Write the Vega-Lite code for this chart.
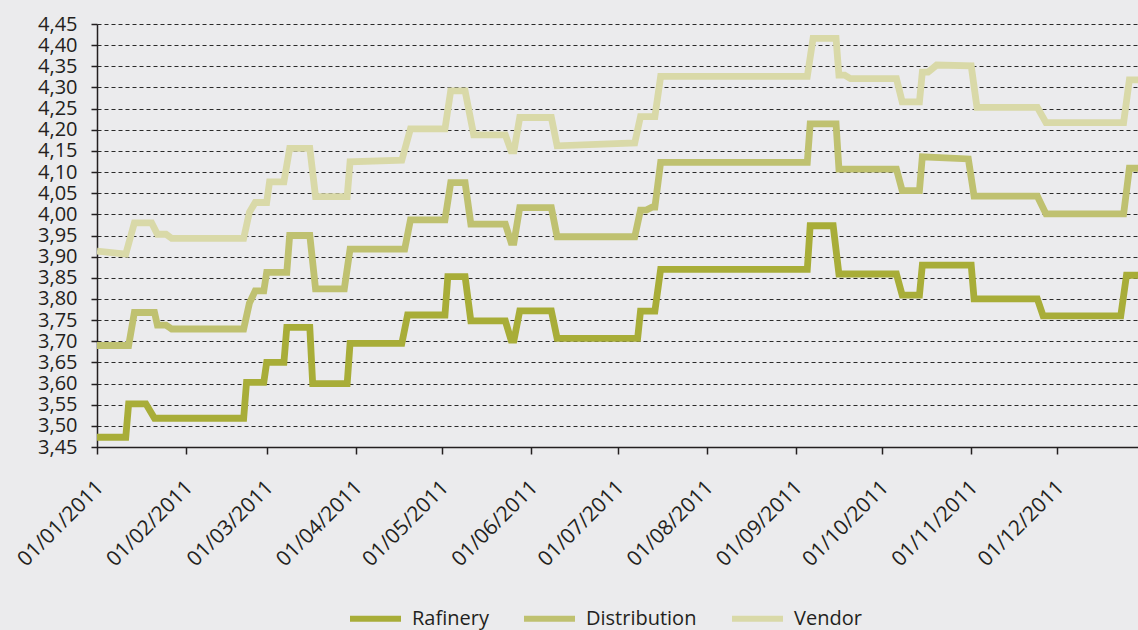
{
  "$schema": "https://vega.github.io/schema/vega-lite/v6.json",
  "width": 1041,
  "height": 423,
  "autosize": {"type": "none"},
  "padding": {"left": 97, "top": 24, "right": 0, "bottom": 183},
  "background": "#ebebed",
  "config": {"view": {"stroke": null}, "font": "Open Sans"},
  "datasets": {
    "prices": [
      {"series": "Rafinery", "date": "2011-01-01T00:00:00", "value": 3.473},
      {"series": "Rafinery", "date": "2011-01-11T00:00:00", "value": 3.473},
      {"series": "Rafinery", "date": "2011-01-12T00:00:00", "value": 3.552},
      {"series": "Rafinery", "date": "2011-01-18T00:00:00", "value": 3.552},
      {"series": "Rafinery", "date": "2011-01-21T00:00:00", "value": 3.518},
      {"series": "Rafinery", "date": "2011-02-21T00:00:00", "value": 3.518},
      {"series": "Rafinery", "date": "2011-02-22T00:00:00", "value": 3.603},
      {"series": "Rafinery", "date": "2011-02-28T00:00:00", "value": 3.603},
      {"series": "Rafinery", "date": "2011-03-01T00:00:00", "value": 3.65},
      {"series": "Rafinery", "date": "2011-03-07T00:00:00", "value": 3.65},
      {"series": "Rafinery", "date": "2011-03-08T00:00:00", "value": 3.733},
      {"series": "Rafinery", "date": "2011-03-16T00:00:00", "value": 3.733},
      {"series": "Rafinery", "date": "2011-03-17T00:00:00", "value": 3.6},
      {"series": "Rafinery", "date": "2011-03-29T00:00:00", "value": 3.6},
      {"series": "Rafinery", "date": "2011-03-30T00:00:00", "value": 3.695},
      {"series": "Rafinery", "date": "2011-04-17T00:00:00", "value": 3.695},
      {"series": "Rafinery", "date": "2011-04-19T00:00:00", "value": 3.762},
      {"series": "Rafinery", "date": "2011-05-02T00:00:00", "value": 3.762},
      {"series": "Rafinery", "date": "2011-05-03T00:00:00", "value": 3.853},
      {"series": "Rafinery", "date": "2011-05-09T00:00:00", "value": 3.853},
      {"series": "Rafinery", "date": "2011-05-11T00:00:00", "value": 3.748},
      {"series": "Rafinery", "date": "2011-05-23T00:00:00", "value": 3.748},
      {"series": "Rafinery", "date": "2011-05-25T00:00:00", "value": 3.703},
      {"series": "Rafinery", "date": "2011-05-26T00:00:00", "value": 3.703},
      {"series": "Rafinery", "date": "2011-05-28T00:00:00", "value": 3.772},
      {"series": "Rafinery", "date": "2011-06-08T00:00:00", "value": 3.772},
      {"series": "Rafinery", "date": "2011-06-10T00:00:00", "value": 3.707},
      {"series": "Rafinery", "date": "2011-07-08T00:00:00", "value": 3.707},
      {"series": "Rafinery", "date": "2011-07-09T00:00:00", "value": 3.771},
      {"series": "Rafinery", "date": "2011-07-14T00:00:00", "value": 3.771},
      {"series": "Rafinery", "date": "2011-07-16T00:00:00", "value": 3.87},
      {"series": "Rafinery", "date": "2011-09-05T00:00:00", "value": 3.87},
      {"series": "Rafinery", "date": "2011-09-06T00:00:00", "value": 3.973},
      {"series": "Rafinery", "date": "2011-09-14T00:00:00", "value": 3.973},
      {"series": "Rafinery", "date": "2011-09-16T00:00:00", "value": 3.859},
      {"series": "Rafinery", "date": "2011-10-06T00:00:00", "value": 3.859},
      {"series": "Rafinery", "date": "2011-10-08T00:00:00", "value": 3.809},
      {"series": "Rafinery", "date": "2011-10-14T00:00:00", "value": 3.809},
      {"series": "Rafinery", "date": "2011-10-15T00:00:00", "value": 3.88},
      {"series": "Rafinery", "date": "2011-11-01T00:00:00", "value": 3.88},
      {"series": "Rafinery", "date": "2011-11-02T00:00:00", "value": 3.8},
      {"series": "Rafinery", "date": "2011-11-24T00:00:00", "value": 3.8},
      {"series": "Rafinery", "date": "2011-11-26T00:00:00", "value": 3.76},
      {"series": "Rafinery", "date": "2011-12-23T00:00:00", "value": 3.76},
      {"series": "Rafinery", "date": "2011-12-25T00:00:00", "value": 3.856},
      {"series": "Rafinery", "date": "2011-12-29T00:00:00", "value": 3.856},

      {"series": "Distribution", "date": "2011-01-01T00:00:00", "value": 3.69},
      {"series": "Distribution", "date": "2011-01-12T00:00:00", "value": 3.69},
      {"series": "Distribution", "date": "2011-01-14T00:00:00", "value": 3.768},
      {"series": "Distribution", "date": "2011-01-21T00:00:00", "value": 3.768},
      {"series": "Distribution", "date": "2011-01-22T00:00:00", "value": 3.738},
      {"series": "Distribution", "date": "2011-01-25T00:00:00", "value": 3.738},
      {"series": "Distribution", "date": "2011-01-27T00:00:00", "value": 3.729},
      {"series": "Distribution", "date": "2011-02-21T00:00:00", "value": 3.729},
      {"series": "Distribution", "date": "2011-02-23T00:00:00", "value": 3.79},
      {"series": "Distribution", "date": "2011-02-25T00:00:00", "value": 3.819},
      {"series": "Distribution", "date": "2011-02-28T00:00:00", "value": 3.819},
      {"series": "Distribution", "date": "2011-03-01T00:00:00", "value": 3.863},
      {"series": "Distribution", "date": "2011-03-08T00:00:00", "value": 3.863},
      {"series": "Distribution", "date": "2011-03-09T00:00:00", "value": 3.95},
      {"series": "Distribution", "date": "2011-03-16T00:00:00", "value": 3.95},
      {"series": "Distribution", "date": "2011-03-18T00:00:00", "value": 3.824},
      {"series": "Distribution", "date": "2011-03-28T00:00:00", "value": 3.824},
      {"series": "Distribution", "date": "2011-03-30T00:00:00", "value": 3.918},
      {"series": "Distribution", "date": "2011-04-18T00:00:00", "value": 3.918},
      {"series": "Distribution", "date": "2011-04-20T00:00:00", "value": 3.987},
      {"series": "Distribution", "date": "2011-05-02T00:00:00", "value": 3.987},
      {"series": "Distribution", "date": "2011-05-04T00:00:00", "value": 4.075},
      {"series": "Distribution", "date": "2011-05-09T00:00:00", "value": 4.075},
      {"series": "Distribution", "date": "2011-05-11T00:00:00", "value": 3.977},
      {"series": "Distribution", "date": "2011-05-23T00:00:00", "value": 3.977},
      {"series": "Distribution", "date": "2011-05-25T00:00:00", "value": 3.934},
      {"series": "Distribution", "date": "2011-05-26T00:00:00", "value": 3.934},
      {"series": "Distribution", "date": "2011-05-28T00:00:00", "value": 4.016},
      {"series": "Distribution", "date": "2011-06-08T00:00:00", "value": 4.016},
      {"series": "Distribution", "date": "2011-06-10T00:00:00", "value": 3.947},
      {"series": "Distribution", "date": "2011-07-07T00:00:00", "value": 3.947},
      {"series": "Distribution", "date": "2011-07-09T00:00:00", "value": 4.01},
      {"series": "Distribution", "date": "2011-07-11T00:00:00", "value": 4.01},
      {"series": "Distribution", "date": "2011-07-13T00:00:00", "value": 4.017},
      {"series": "Distribution", "date": "2011-07-14T00:00:00", "value": 4.017},
      {"series": "Distribution", "date": "2011-07-16T00:00:00", "value": 4.123},
      {"series": "Distribution", "date": "2011-09-05T00:00:00", "value": 4.123},
      {"series": "Distribution", "date": "2011-09-06T00:00:00", "value": 4.214},
      {"series": "Distribution", "date": "2011-09-15T00:00:00", "value": 4.214},
      {"series": "Distribution", "date": "2011-09-16T00:00:00", "value": 4.107},
      {"series": "Distribution", "date": "2011-10-06T00:00:00", "value": 4.107},
      {"series": "Distribution", "date": "2011-10-08T00:00:00", "value": 4.056},
      {"series": "Distribution", "date": "2011-10-14T00:00:00", "value": 4.056},
      {"series": "Distribution", "date": "2011-10-15T00:00:00", "value": 4.136},
      {"series": "Distribution", "date": "2011-10-31T00:00:00", "value": 4.131},
      {"series": "Distribution", "date": "2011-11-02T00:00:00", "value": 4.043},
      {"series": "Distribution", "date": "2011-11-24T00:00:00", "value": 4.043},
      {"series": "Distribution", "date": "2011-11-27T00:00:00", "value": 4.001},
      {"series": "Distribution", "date": "2011-12-24T00:00:00", "value": 4.001},
      {"series": "Distribution", "date": "2011-12-26T00:00:00", "value": 4.109},
      {"series": "Distribution", "date": "2011-12-29T00:00:00", "value": 4.109},

      {"series": "Vendor", "date": "2011-01-01T00:00:00", "value": 3.913},
      {"series": "Vendor", "date": "2011-01-11T00:00:00", "value": 3.906},
      {"series": "Vendor", "date": "2011-01-14T00:00:00", "value": 3.98},
      {"series": "Vendor", "date": "2011-01-20T00:00:00", "value": 3.98},
      {"series": "Vendor", "date": "2011-01-22T00:00:00", "value": 3.953},
      {"series": "Vendor", "date": "2011-01-25T00:00:00", "value": 3.953},
      {"series": "Vendor", "date": "2011-01-27T00:00:00", "value": 3.943},
      {"series": "Vendor", "date": "2011-02-21T00:00:00", "value": 3.943},
      {"series": "Vendor", "date": "2011-02-23T00:00:00", "value": 4.005},
      {"series": "Vendor", "date": "2011-02-25T00:00:00", "value": 4.028},
      {"series": "Vendor", "date": "2011-03-01T00:00:00", "value": 4.028},
      {"series": "Vendor", "date": "2011-03-02T00:00:00", "value": 4.077},
      {"series": "Vendor", "date": "2011-03-07T00:00:00", "value": 4.077},
      {"series": "Vendor", "date": "2011-03-09T00:00:00", "value": 4.156},
      {"series": "Vendor", "date": "2011-03-16T00:00:00", "value": 4.156},
      {"series": "Vendor", "date": "2011-03-18T00:00:00", "value": 4.042},
      {"series": "Vendor", "date": "2011-03-29T00:00:00", "value": 4.042},
      {"series": "Vendor", "date": "2011-03-30T00:00:00", "value": 4.124},
      {"series": "Vendor", "date": "2011-04-17T00:00:00", "value": 4.128},
      {"series": "Vendor", "date": "2011-04-20T00:00:00", "value": 4.202},
      {"series": "Vendor", "date": "2011-05-02T00:00:00", "value": 4.202},
      {"series": "Vendor", "date": "2011-05-04T00:00:00", "value": 4.292},
      {"series": "Vendor", "date": "2011-05-09T00:00:00", "value": 4.292},
      {"series": "Vendor", "date": "2011-05-12T00:00:00", "value": 4.188},
      {"series": "Vendor", "date": "2011-05-23T00:00:00", "value": 4.188},
      {"series": "Vendor", "date": "2011-05-25T00:00:00", "value": 4.15},
      {"series": "Vendor", "date": "2011-05-26T00:00:00", "value": 4.15},
      {"series": "Vendor", "date": "2011-05-28T00:00:00", "value": 4.229},
      {"series": "Vendor", "date": "2011-06-08T00:00:00", "value": 4.229},
      {"series": "Vendor", "date": "2011-06-10T00:00:00", "value": 4.162},
      {"series": "Vendor", "date": "2011-07-07T00:00:00", "value": 4.169},
      {"series": "Vendor", "date": "2011-07-09T00:00:00", "value": 4.231},
      {"series": "Vendor", "date": "2011-07-14T00:00:00", "value": 4.231},
      {"series": "Vendor", "date": "2011-07-16T00:00:00", "value": 4.326},
      {"series": "Vendor", "date": "2011-09-05T00:00:00", "value": 4.326},
      {"series": "Vendor", "date": "2011-09-07T00:00:00", "value": 4.416},
      {"series": "Vendor", "date": "2011-09-15T00:00:00", "value": 4.416},
      {"series": "Vendor", "date": "2011-09-16T00:00:00", "value": 4.329},
      {"series": "Vendor", "date": "2011-09-18T00:00:00", "value": 4.329},
      {"series": "Vendor", "date": "2011-09-20T00:00:00", "value": 4.321},
      {"series": "Vendor", "date": "2011-10-06T00:00:00", "value": 4.321},
      {"series": "Vendor", "date": "2011-10-08T00:00:00", "value": 4.266},
      {"series": "Vendor", "date": "2011-10-14T00:00:00", "value": 4.266},
      {"series": "Vendor", "date": "2011-10-15T00:00:00", "value": 4.336},
      {"series": "Vendor", "date": "2011-10-17T00:00:00", "value": 4.336},
      {"series": "Vendor", "date": "2011-10-20T00:00:00", "value": 4.353},
      {"series": "Vendor", "date": "2011-11-01T00:00:00", "value": 4.351},
      {"series": "Vendor", "date": "2011-11-03T00:00:00", "value": 4.253},
      {"series": "Vendor", "date": "2011-11-24T00:00:00", "value": 4.253},
      {"series": "Vendor", "date": "2011-11-27T00:00:00", "value": 4.217},
      {"series": "Vendor", "date": "2011-12-24T00:00:00", "value": 4.217},
      {"series": "Vendor", "date": "2011-12-26T00:00:00", "value": 4.318},
      {"series": "Vendor", "date": "2011-12-29T00:00:00", "value": 4.318}
    ]
  },
  "data": {"name": "prices"},
  "mark": {"type": "line", "strokeWidth": 6.8, "strokeJoin": "miter", "clip": true},
  "encoding": {
    "x": {
      "field": "date",
      "type": "temporal",
      "scale": {"domain": [{"year": 2011, "month": 1, "date": 1}, {"year": 2011, "month": 12, "date": 29}]},
      "axis": {
        "title": null,
        "format": "%d/%m/%Y",
        "tickCount": {"interval": "month", "step": 1},
        "labelAngle": -45,
        "labelAlign": "right",
        "labelBaseline": "middle",
        "labelPadding": 30,
        "labelOffset": 3,
        "labelFlush": false,
        "labelOverlap": false,
        "labelBound": false,
        "grid": false,
        "tickSize": 7,
        "tickWidth": 1.5,
        "tickColor": "#231f20",
        "domainColor": "#231f20",
        "domainWidth": 1.5,
        "labelFont": "Open Sans",
        "labelFontSize": 21,
        "labelColor": "#231f20"
      }
    },
    "y": {
      "field": "value",
      "type": "quantitative",
      "scale": {"domain": [3.45, 4.45], "nice": false, "zero": false},
      "axis": {
        "title": null,
        "values": [3.45, 3.5, 3.55, 3.6, 3.65, 3.7, 3.75, 3.8, 3.85, 3.9, 3.95, 4.0, 4.05, 4.1, 4.15, 4.2, 4.25, 4.3, 4.35, 4.4, 4.45],
        "labelExpr": "replace(format(datum.value, '.2f'), '.', ',')",
        "grid": true,
        "gridDash": [4, 3],
        "gridColor": "#2a2a2a",
        "gridWidth": 1.1,
        "tickSize": 6,
        "tickWidth": 1.5,
        "tickColor": "#231f20",
        "domainColor": "#231f20",
        "domainWidth": 1.5,
        "labelPadding": 14,
        "labelFlush": false,
        "labelOverlap": false,
        "labelFont": "Open Sans",
        "labelFontSize": 20,
        "labelColor": "#231f20"
      }
    },
    "color": {
      "field": "series",
      "type": "nominal",
      "scale": {"domain": ["Rafinery", "Distribution", "Vendor"], "range": ["#a8ad38", "#bfc170", "#d9d9a8"]},
      "legend": {
        "title": null,
        "orient": "none",
        "legendX": 250,
        "legendY": 566,
        "direction": "horizontal",
        "gridAlign": "each",
        "padding": 0,
        "symbolType": "stroke",
        "symbolSize": 2601,
        "symbolStrokeWidth": 6,
        "labelFont": "Open Sans",
        "labelFontSize": 20,
        "labelColor": "#231f20",
        "labelOffset": 8,
        "columnPadding": 23
      }
    }
  }
}
